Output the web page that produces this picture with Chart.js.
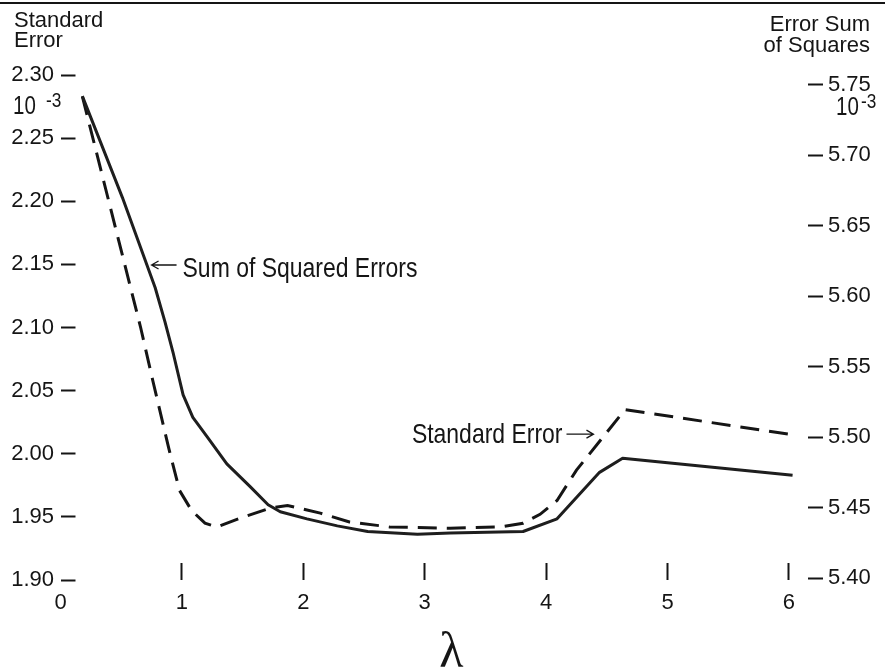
<!DOCTYPE html>
<html>
<head>
<meta charset="utf-8">
<script src="https://cdn.jsdelivr.net/npm/chart.js@4/dist/chart.umd.min.js"></script>
<style>
  html, body { margin: 0; padding: 0; background: #fff; }
</style>
</head>
<body>
<canvas id="chart" width="885" height="672"></canvas>
<script>
// values
var lambdaSSE = [0.18, 0.51, 0.78, 0.86, 0.93, 1.01, 1.09, 1.21, 1.37, 1.56, 1.71, 1.81, 2.03, 2.28, 2.53, 2.94, 3.21, 3.81, 4.09, 4.44, 4.63, 6.03];
var sumSquaredErrors = [5.742, 5.670, 5.606, 5.582, 5.559, 5.530, 5.514, 5.500, 5.481, 5.465, 5.452, 5.447, 5.442, 5.437, 5.433, 5.431, 5.432, 5.433, 5.442, 5.475, 5.485, 5.473];

var lambdaSE = [0.18, 0.66, 0.76, 0.89, 0.98, 1.08, 1.19, 1.29, 1.48, 1.73, 1.87, 2.14, 2.38, 2.71, 3.21, 3.62, 3.81, 3.95, 4.09, 4.25, 4.65, 6.03];
var standardError = [2.283, 2.100, 2.058, 2.005, 1.971, 1.955, 1.945, 1.942, 1.949, 1.957, 1.959, 1.953, 1.946, 1.942, 1.941, 1.942, 1.945, 1.952, 1.963, 1.987, 2.035, 2.015];

var lambdaTicks = [0, 1, 2, 3, 4, 5, 6];
var stdErrTicks = [1.90, 1.95, 2.00, 2.05, 2.10, 2.15, 2.20, 2.25, 2.30];
var sseTicks = [5.40, 5.45, 5.50, 5.55, 5.60, 5.65, 5.70, 5.75];

var SANS = "'Liberation Sans', Arial, sans-serif";
var INK = '#151515';
var SQUEEZE = 0.82; // the original typeface is a condensed grotesque

function toPoints(xs, ys) {
  var pts = [];
  for (var i = 0; i < xs.length; i++) {
    pts.push({ x: xs[i], y: ys[i] });
  }
  return pts;
}

function fixTicks(list) {
  return function (scale) {
    scale.ticks = list.map(function (v) { return { value: v }; });
  };
}

function narrowText(c, text, x, y, size, align) {
  c.save();
  c.translate(x, y);
  c.scale(SQUEEZE, 1);
  c.font = size + 'px ' + SANS;
  c.textAlign = align || 'left';
  c.fillText(text, 0, 0);
  c.restore();
}

function arrow(c, x1, y, x2) {
  // thin line with an open head at x2
  var dir = x2 > x1 ? 1 : -1;
  c.lineWidth = 1.3;
  c.beginPath();
  c.moveTo(x1, y); c.lineTo(x2, y);
  c.moveTo(x2 - dir * 7, y - 4); c.lineTo(x2, y); c.lineTo(x2 - dir * 7, y + 4);
  c.stroke();
}

var annotate = {
  id: 'annotate',
  afterDraw: function (chart) {
    var c = chart.ctx;
    var x = chart.scales.x, y = chart.scales.y;
    c.save();
    c.fillStyle = INK;
    c.strokeStyle = INK;
    c.textBaseline = 'alphabetic';

    // edge of the scanned page
    c.lineWidth = 2;
    c.beginPath(); c.moveTo(0, 3); c.lineTo(885, 3); c.stroke();

    c.font = '22px ' + SANS;
    c.textAlign = 'left';
    c.fillText('Standard', 14, 27);
    c.fillText('Error', 14, 47);
    c.textAlign = 'right';
    c.fillText('Error Sum', 870, 31);
    c.fillText('of Squares', 870, 52);

    // 10^-3 multipliers
    narrowText(c, '10', 13, 114, 25);
    narrowText(c, '-3', 46, 107, 21);
    narrowText(c, '10', 836, 115, 25);
    narrowText(c, '-3', 861, 108, 21);

    // curve labels
    var ax = x.getPixelForValue(0.75), ay = y.getPixelForValue(2.1495);
    arrow(c, ax + 25, ay, ax);
    narrowText(c, 'Sum of Squared Errors', ax + 31, ay + 12, 28);

    var bx = x.getPixelForValue(4.39), by = y.getPixelForValue(2.0155);
    arrow(c, bx - 27, by, bx);
    narrowText(c, 'Standard Error', bx - 31, by + 9, 28, 'right');

    // lambda under the axis
    c.textAlign = 'center';
    c.font = "50px 'Liberation Serif', 'DejaVu Serif', serif";
    c.fillText('\u03bb', x.getPixelForValue(3.22), 667);
    c.restore();
  }
};

new Chart(document.getElementById('chart'), {
  type: 'line',
  data: {
    datasets: [
      {
        label: 'Sum of Squared Errors',
        data: toPoints(lambdaSSE, sumSquaredErrors),
        yAxisID: 'y2',
        borderColor: '#1e1e1e',
        borderWidth: 3,
        borderJoinStyle: 'round',
        pointRadius: 0,
        fill: false,
        tension: 0
      },
      {
        label: 'Standard Error',
        data: toPoints(lambdaSE, standardError),
        yAxisID: 'y',
        borderColor: INK,
        borderWidth: 3,
        borderDash: [19, 10],
        pointRadius: 0,
        fill: false,
        tension: 0
      }
    ]
  },
  options: {
    responsive: false,
    animation: false,
    layout: { padding: { top: 75, left: 0, right: 0, bottom: 0 } },
    plugins: { legend: { display: false }, tooltip: { enabled: false } },
    scales: {
      x: {
        type: 'linear',
        min: 0,
        max: 6.157,
        afterBuildTicks: fixTicks(lambdaTicks),
        afterFit: function (s) { s.height = 92; },
        border: { display: false },
        grid: {
          drawOnChartArea: false,
          tickLength: -17,
          tickWidth: 2,
          color: function (ctx) { return ctx.tick && ctx.tick.value === 0 ? 'rgba(0,0,0,0)' : INK; }
        },
        ticks: {
          padding: 27,
          color: INK,
          font: { family: SANS, size: 22 },
          maxRotation: 0,
          autoSkip: false,
          callback: function (v) { return String(v); }
        }
      },
      y: {
        position: 'left',
        min: 1.90,
        max: 2.30,
        afterBuildTicks: fixTicks(stdErrTicks),
        afterFit: function (s) { s.width = 60.5; },
        border: { display: false },
        grid: { drawOnChartArea: false, tickLength: -15, tickWidth: 2, color: INK },
        ticks: {
          padding: 21.5,
          color: INK,
          font: { family: SANS, size: 22 },
          callback: function (v) { return v.toFixed(2); }
        }
      },
      y2: {
        position: 'right',
        min: 5.3986,
        max: 5.757,
        afterBuildTicks: fixTicks(sseTicks),
        afterFit: function (s) { s.width = 77; },
        border: { display: false },
        grid: { drawOnChartArea: false, tickLength: 15, tickWidth: 2, color: INK },
        ticks: {
          padding: 5,
          color: INK,
          font: { family: SANS, size: 22 },
          callback: function (v) { return v.toFixed(2); }
        }
      }
    }
  },
  plugins: [annotate]
});
</script>
</body>
</html>
